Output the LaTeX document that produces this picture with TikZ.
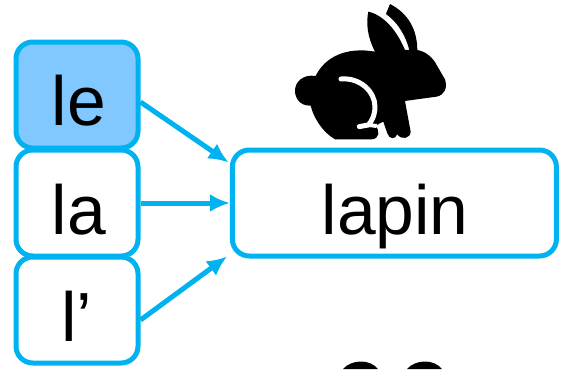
\documentclass[tikz,border=0pt]{standalone}
\usepackage{fontspec}
\setmainfont{Liberation Sans}
\usetikzlibrary{arrows.meta}
\definecolor{edgeblue}{RGB}{0,178,240}
\definecolor{fillblue}{RGB}{128,200,255}
\begin{document}
\begin{tikzpicture}[thick,
                    word node/.style={rectangle,rounded corners=0.42cm,draw=edgeblue,line width=0.125cm,inner sep=0pt},
                    small node/.style={word node,minimum width=3.05cm,minimum height=2.65cm},
                    word text/.style={anchor=base,font=\fontsize{49.5}{50}\selectfont},
                    link/.style={draw=edgeblue,line width=0.125cm,-{Latex[length=0.5cm,width=0.45cm]}}]
  \useasboundingbox (0,0) rectangle (14.075,9.225);

  \node[small node, fill=fillblue] (le) at (1.925,6.85) {};
  \node[small node] (la) at (1.925,4.15) {};
  \node[small node] (lapos) at (1.925,1.475) {};
  \node[word node, minimum width=8.1cm, minimum height=2.65cm] (lapin) at (9.86,4.15) {};
  \node[word text] (letext) at (1.97,6.08) {le};
  \node[word text] (latext) at (1.97,3.37) {la};
  \node[word text] (apostext) at (1.925,0.7) {l’};
  \node[word text] (lapintext) at (9.88,3.37) {lapin};

  \path[every edge/.append style={link}]
  ([yshift=-0.175cm]le.east) edge ([shift={(-0.03cm,-0.375cm)}]lapin.north west)
  (la.east) edge (lapin.west)
  ([yshift=-0.25cm]lapos.east) edge ([shift={(-0.07cm,0.05cm)}]lapin.south west);

  % rabbit
  \begin{scope}[shift={(7,9.225)},x=0.00833cm,y=-0.00833cm]
    \fill (285,155) .. controls (262,110) and (258,70) .. (265,35)
      .. controls (310,45) and (350,90) .. (375,150)
      -- (388,150) .. controls (375,100) and (350,65) .. (318,42)
      -- (330,12) .. controls (385,40) and (412,90) .. (412,150)
      .. controls (440,155) and (460,175) .. (470,195)
      -- (495,238) .. controls (503,262) and (495,285) .. (470,290)
      -- (375,303) -- (392,395) .. controls (392,415) and (365,422) .. (352,403)
      .. controls (345,420) and (328,418) .. (322,400)
      -- (310,365) -- (285,378) .. controls (302,390) and (298,418) .. (275,418)
      -- (165,418) .. controls (125,395) and (100,350) .. (92,317)
      .. controls (60,318) and (45,295) .. (45,272)
      .. controls (45,245) and (70,222) .. (107,228)
      .. controls (135,170) and (200,140) .. (285,155) -- cycle;
    \draw[white,line width=0.125cm,line cap=round,line join=round] (183,237)
      .. controls (240,232) and (285,275) .. (285,320)
      .. controls (285,345) and (275,365) .. (265,375) -- (238,380);
    \draw[white,line width=0.1cm] (265,375) -- (290,378);
  \end{scope}

  % ears of the next rabbit
  \fill (8.575,0) .. controls (8.8,0.25) and (9.25,0.25) .. (9.45,0) -- cycle;
  \fill (10.175,0) .. controls (10.4,0.25) and (10.85,0.25) .. (11.05,0) -- cycle;

\end{tikzpicture}
\end{document}
